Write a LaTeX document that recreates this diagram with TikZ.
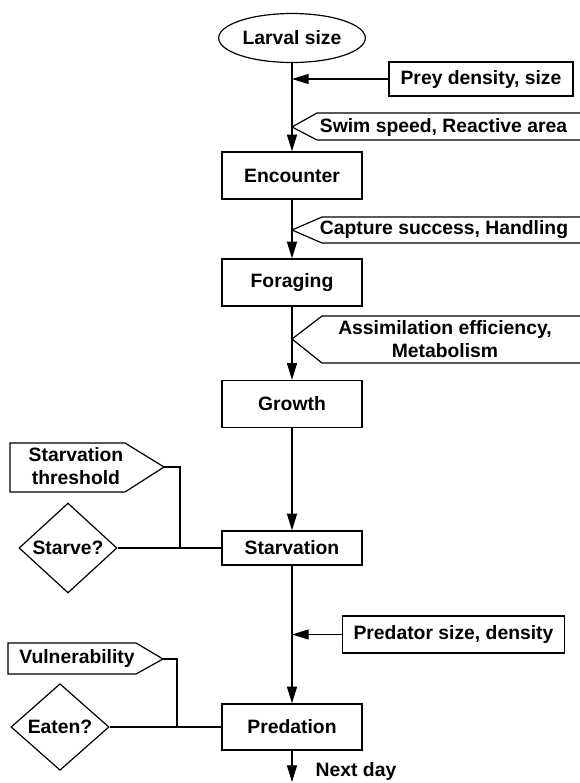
\documentclass[tikz,border=0pt]{standalone}
\usepackage{fontspec}
\setmainfont{Liberation Sans}
\usetikzlibrary{arrows.meta,shapes.geometric,positioning}
\tikzset {
	process/.style={rectangle, draw, minimum width=105pt, minimum height=35.25pt, inner sep=2pt},
	source/.style={rectangle, draw, inner sep=2pt},
	decision/.style={diamond, draw, minimum width=73.5pt, minimum height=65pt, inner sep=1pt},
	start/.style={ellipse, draw, minimum width=110pt, minimum height=36.75pt, inner sep=1pt},
	param/.style={inner sep=0pt, align=center},
	flow/.style={-{Triangle[length=12.5pt,width=7.5pt]}},
	txt/.style={font=\bfseries\fontsize{14.5}{17.25}\selectfont}
}
\begin{document}
\begin{tikzpicture}[x=0.75pt, y=-0.75pt, line width=0.9pt, every node/.style={txt}]
	\useasboundingbox (0,0) rectangle (580,783);
	% main chain
	\node [start] (larval) at (292,38) {Larval size};
	\node [process] (encounter) at (292,175.5) {Encounter};
	\node [process] (foraging) at (292,282.5) {Foraging};
	\node [process] (growth) at (292,404) {Growth};
	\node [process, minimum height=25.5pt] (starvation) at (292,548) {Starvation};
	\node [process, minimum height=34.5pt] (predation) at (292,727) {Predation};
	\coordinate (nextend) at (292,782);
	\node (nextday) at (356,771) {Next day};
	% inputs from the right
	\node [source, minimum width=138pt, minimum height=25.5pt] (prey) at (481,79) {Prey density, size};
	\node [source, minimum width=167pt, minimum height=27.75pt] (predator) at (453.5,634.5) {Predator size, density};
	\node [param] (swim) at (443.5,127) {Swim speed, Reactive area};
	\node [param] (capture) at (444,230) {Capture success, Handling};
	\node [param] (assim) at (445,339) {Assimilation efficiency,\\Metabolism};
	\draw (580,113) -- (317,113) -- (292,127) -- (317,140) -- (580,140);
	\draw (580,217) -- (322,217) -- (292,230) -- (322,243) -- (580,243);
	\draw (580,316) -- (322,316) -- (292,339) -- (322,363) -- (580,363);
	% checks on the left
	\node [param] (threshold) at (76,466.5) {Starvation\\threshold};
	\node [param] (vulner) at (77,658.5) {Vulnerability};
	\node [decision] (starve) at (68,548) {Starve?};
	\node [decision] (eaten) at (60,727) {Eaten?};
	\draw (10,443) -- (125,443) -- (164,467) coordinate (thrtip) -- (125,492) -- (10,492) -- cycle;
	\draw (8,643) -- (136,643) -- (163,659) coordinate (vultip) -- (136,674) -- (8,674) -- cycle;
	\coordinate (starvejoin) at (180,548);
	\coordinate (eatenjoin) at (177,727);
	% connectors
	\draw [flow] (larval) -- (encounter);
	\draw [flow] (encounter) -- (foraging);
	\draw [flow] (foraging) -- (growth);
	\draw [flow] (growth) -- (starvation);
	\draw [flow] (starvation) -- (predation);
	\draw [flow] (predation) -- (nextend);
	\draw [flow] (prey) -- (prey -| larval);
	\draw [flow] (predator) -- (predator -| starvation);
	\draw (starve) -- (starvation);
	\draw (eaten) -- (predation);
	\draw (thrtip) -| (starvejoin);
	\draw (vultip) -| (eatenjoin);
\end{tikzpicture}
\end{document}
